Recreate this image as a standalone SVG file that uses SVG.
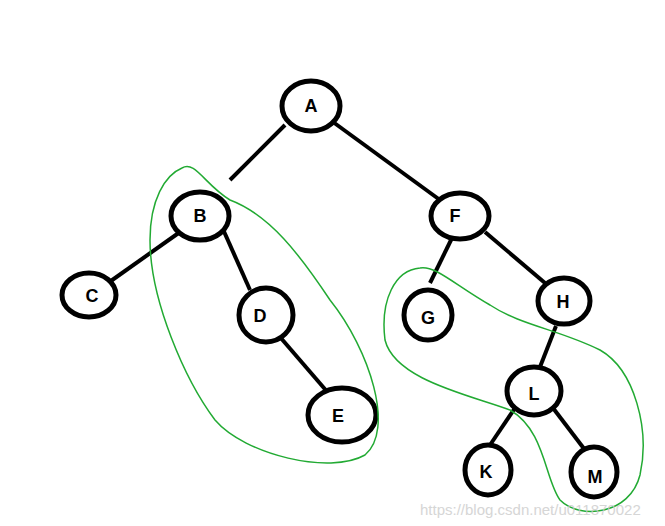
<svg xmlns="http://www.w3.org/2000/svg" width="665" height="526" viewBox="0 0 665 526">
<style>
.n ellipse{fill:#fff;stroke:#000;stroke-width:5}
.n text{font-family:"Liberation Sans",Arial,sans-serif;font-weight:bold;font-size:18px;text-anchor:middle;dominant-baseline:central}
.e line{stroke:#000;stroke-width:4}
.g{fill:none;stroke:#22aa33;stroke-width:1.5}
</style>
<rect width="665" height="526" fill="#fff"/>
<g id="connectors" class="e">
<line x1="285" y1="125" x2="230" y2="180"/>
<line x1="333" y1="122" x2="440" y2="200"/>
<line x1="180" y1="232" x2="108" y2="283"/>
<line x1="222" y1="227" x2="250" y2="290"/>
<line x1="280" y1="337" x2="330" y2="395"/>
<line x1="452" y1="238" x2="430" y2="283"/>
<line x1="485" y1="232" x2="545" y2="283"/>
<line x1="556" y1="326" x2="540" y2="367"/>
<line x1="515" y1="408" x2="490" y2="445"/>
<line x1="553" y1="408" x2="585" y2="450"/>
</g>
<g id="A" class="n"><ellipse cx="311" cy="106" rx="29" ry="25"/><text x="311" y="106">A</text></g>
<g id="B" class="n"><ellipse cx="200" cy="216" rx="29" ry="24"/><text x="200" y="216">B</text></g>
<g id="F" class="n"><ellipse cx="460" cy="216" rx="29" ry="23"/><text x="455" y="216">F</text></g>
<g id="C" class="n"><ellipse cx="89" cy="295" rx="27" ry="22"/><text x="92" y="296">C</text></g>
<g id="D" class="n"><ellipse cx="266" cy="315" rx="27" ry="27"/><text x="260" y="316">D</text></g>
<g id="G" class="n"><ellipse cx="428" cy="315" rx="24" ry="25"/><text x="428" y="318">G</text></g>
<g id="H" class="n"><ellipse cx="564" cy="301" rx="26" ry="23"/><text x="563" y="302">H</text></g>
<g id="E" class="n"><ellipse cx="342" cy="415" rx="34" ry="27"/><text x="338" y="416">E</text></g>
<g id="L" class="n"><ellipse cx="534" cy="391" rx="27" ry="24"/><text x="534" y="394">L</text></g>
<g id="K" class="n"><ellipse cx="488" cy="470" rx="23" ry="25"/><text x="486" y="472">K</text></g>
<g id="M" class="n"><ellipse cx="594" cy="472" rx="23" ry="25"/><text x="595" y="477">M</text></g>
<path class="g" d="M182 168 C165 175 150 200 150 240 C150 300 185 380 215 420 C245 455 330 475 365 455 C395 430 370 350 330 300 C300 255 270 215 230 200 C205 185 195 160 182 168"/>
<path class="g" d="M420 268 C395 270 380 300 385 340 C395 380 470 395 510 410 C545 430 545 480 560 500 C580 520 630 515 640 475 C650 430 635 370 600 350 C560 330 520 325 490 305 C455 285 435 265 420 268"/>
<text x="420" y="515" font-family="Liberation Sans,Arial,sans-serif" font-size="15" fill="#ccc" opacity="0.8">https://blog.csdn.net/u011870022</text>
</svg>
